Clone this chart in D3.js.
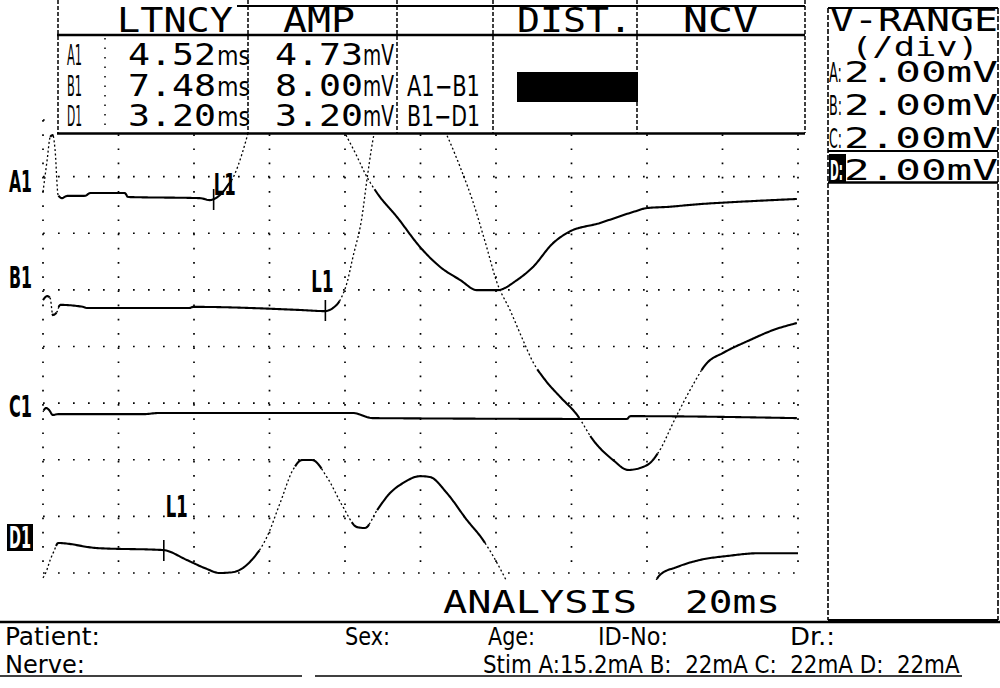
<!DOCTYPE html>
<html><head><meta charset="utf-8">
<script src="https://cdn.jsdelivr.net/npm/d3@7"></script>
<style>html,body{margin:0;padding:0;background:#fff;}svg{display:block;}text{white-space:pre;}</style>
</head><body><svg id="c" width="1000" height="688"></svg>
<script>
// ---------------- DATA ----------------
const headers = ["LTNCY", "AMP", "DIST.", "NCV"];
const rowLabels = ["A1", "B1", "D1"];
const latencies = [4.52, 7.48, 3.20];      // ms
const amplitudes = [4.73, 8.00, 3.20];     // mV
const segmentLabels = ["", "A1\u2212B1", "B1\u2212D1"];
const vRangeChannels = ["A", "B", "C", "D"];
const vRange = [2.00, 2.00, 2.00, 2.00];   // mV/div
const analysisMs = 20;
const stimChannels = ["A", "B", "C", "D"];
const stimCurrent = ["15.2", "22", "22", "22"];
const channelNames = ["A1", "B1", "C1", "D1"];
const infoRow1 = ["Patient:", "Sex:", "Age:", "ID-No:", "Dr.:"];
const infoRow2 = ["Nerve:"];

// traces: [time ms, deflection mV]
const traceA1 = [[0,0.18],[0.11,1.31],[0.19,2.12],[0.26,2.19],[0.32,1.66],[0.40,0.07],[0.50,-0.04],[0.64,0.04],[1.11,0.04],[1.25,0.14],[2.17,0.14],[2.25,0],[4.16,-0.04],[4.42,-0.11],[4.53,-0.07],[4.74,0.14],[4.90,0.42],[5.03,0.67],[5.22,1.31],[5.38,2.01],[5.54,2.79],[5.80,3.78],[6.15,4.49],[6.60,4.73],[7.07,4.56],[7.55,3.60],[8.00,2.26],[8.26,1.59],[8.58,0.71],[8.85,0.14],[9.38,-0.71],[9.99,-1.77],[10.52,-2.47],[11.05,-2.93],[11.50,-3.29],[12.03,-3.29],[12.56,-2.93],[12.98,-2.47],[13.51,-1.63],[13.88,-1.27],[14.75,-0.92],[15.63,-0.53],[16.00,-0.39],[16.53,-0.35],[17.40,-0.25],[18.28,-0.18],[19.97,-0.07]];
const traceB1 = [[0,0.28],[0.11,0.42],[0.19,0.35],[0.26,-0.25],[0.37,-0.14],[0.45,0.11],[1.06,0.04],[1.17,0],[3.89,0],[3.97,0.04],[6.81,-0.07],[7.47,-0.11],[7.68,0],[7.87,0.28],[8.05,0.88],[8.21,1.80],[8.45,3.22],[8.58,4.52],[8.74,5.94],[8.93,7.00],[9.19,7.70],[9.46,8.00],[9.77,7.88],[10.12,7.35],[10.44,6.82],[10.73,6.01],[11.05,4.98],[11.40,3.71],[11.72,2.30],[12.03,0.88],[12.37,-0.07],[12.69,-1.06],[12.98,-1.91],[13.30,-2.54],[13.70,-3.14],[14.15,-3.78],[14.57,-4.66],[15.10,-5.37],[15.50,-5.72],[16.00,-5.55],[16.34,-5.02],[16.69,-4.06],[17.14,-2.90],[17.59,-1.94],[18.01,-1.59],[18.73,-1.13],[19.34,-0.78],[19.97,-0.53]];
const traceC1 = [[0,0.04],[0.08,0.18],[0.16,0.11],[0.26,-0.07],[0.40,-0.04],[2.65,-0.04],[3.05,0],[8.21,0],[8.74,-0.18],[15.47,-0.21],[15.55,-0.11],[19.97,-0.18]];
const traceD1 = [[0,-1.05],[0.08,-0.85],[0.19,-0.42],[0.29,-0.11],[0.40,0.18],[1.43,0],[3.18,-0.07],[3.81,-0.42],[4.29,-0.71],[4.69,-0.88],[5.03,-0.85],[5.48,-0.49],[5.93,0.39],[6.28,1.59],[6.62,2.76],[6.86,3.11],[7.13,3.11],[7.52,2.51],[7.95,1.45],[8.32,0.74],[8.53,0.71],[8.85,1.34],[9.19,1.94],[9.54,2.30],[9.99,2.54],[10.25,2.51],[10.70,1.94],[11.23,0.99],[11.66,0.28],[12.03,-0.53],[12.24,-1.06],[12.50,-1.77],[13.03,-2.90],[13.70,-3.78],[14.49,-4.03],[15.28,-3.43],[15.95,-2.01],[16.21,-1.20],[16.34,-0.95],[16.79,-0.67],[17.40,-0.42],[18.12,-0.28],[18.99,-0.18],[20,-0.18]];
const traces = [traceA1, traceB1, traceC1, traceD1];

// ---------------- LAYOUT ----------------
const MONO = "'DejaVu Sans Mono', 'Liberation Mono', monospace";
const NARROW = "'DejaVu Sans Condensed', 'Liberation Sans Narrow', 'DejaVu Sans', sans-serif";
const channelOffsetMv = [13.28, 9.36, 5.65, 0.88];   // baseline position of each channel on screen (mV above bottom edge)
const nDivX = 10, nDivY = 8;

const svg = d3.select("#c");
svg.append("rect").attr("width", 1000).attr("height", 688).attr("fill", "#fff");

const x = d3.scaleLinear().domain([0, analysisMs]).range([43, 798]);
const y = d3.scaleLinear().domain([0, nDivY * vRange[0]]).range([573, 120]);

// text fitted horizontally to a width by scaling
function txt(s, tx, ty, w, fs, fam, fill, weight) {
  const t = svg.append("text").attr("x", 0).attr("y", 0)
    .attr("font-size", fs).attr("font-family", fam).attr("fill", fill || "#000")
    .attr("font-weight", weight || "normal").text(s);
  const nat = t.node().getComputedTextLength() || w;
  const sx = w ? w / nat : 1;
  t.attr("transform", `translate(${tx},${ty}) scale(${sx.toFixed(4)},1)`);
  return t;
}
function hline(x1, x2, yy, sw, dash) {
  const l = svg.append("line").attr("x1", x1).attr("x2", x2).attr("y1", yy).attr("y2", yy)
    .attr("stroke", "#000").attr("stroke-width", sw);
  if (dash) l.attr("stroke-dasharray", dash);
}
function vline(xx, y1, y2, sw, dash) {
  const l = svg.append("line").attr("x1", xx).attr("x2", xx).attr("y1", y1).attr("y2", y2)
    .attr("stroke", "#000").attr("stroke-width", sw);
  if (dash) l.attr("stroke-dasharray", dash);
}

// ---------------- GRID ----------------
const grid = svg.append("g");
const xTicks = d3.range(0, nDivX + 1).map(i => i * analysisMs / nDivX);
const yTicks = d3.range(0, nDivY + 1).map(i => i * vRange[0]);
grid.selectAll(".gx").data(xTicks).join("line")
  .attr("x1", d => x(d)).attr("x2", d => x(d)).attr("y1", y(yTicks[yTicks.length - 1])).attr("y2", y(0))
  .attr("stroke", "#000").attr("stroke-width", 1.7).attr("stroke-dasharray", "1.7,12.5");
grid.selectAll(".gy").data(yTicks).join("line")
  .attr("x1", x(0)).attr("x2", x(analysisMs)).attr("y1", d => y(d)).attr("y2", d => y(d))
  .attr("stroke", "#000").attr("stroke-width", 1.7).attr("stroke-dasharray", "1.7,13.3");

// ---------------- TRACES ----------------
svg.append("clipPath").attr("id", "plotclip").append("rect")
  .attr("x", 0).attr("y", 133).attr("width", 802).attr("height", 447);
const tg = svg.append("g").attr("clip-path", "url(#plotclip)");
const smooth = d3.line().curve(d3.curveMonotoneX);
const straight = d3.line();
function densify(pts) {
  const p = svg.append("path").attr("d", smooth(pts)).attr("fill", "none");
  const node = p.node(), L = node.getTotalLength();
  const out = [];
  for (let s = 0; s < L; s += 1.5) { const q = node.getPointAtLength(s); out.push([q.x, q.y]); }
  const q = node.getPointAtLength(L); out.push([q.x, q.y]);
  p.remove();
  return out;
}
traces.forEach((tr, ci) => {
  const off = channelOffsetMv[ci];
  const pts = densify(tr.map(d => [x(d[0]), y(off + d[1])]));
  const groups = [];
  for (let i = 0; i < pts.length - 1; i++) {
    const a = pts[Math.max(0, i - 2)], b = pts[Math.min(pts.length - 1, i + 3)];
    const dx = Math.abs(b[0] - a[0]) || 0.01;
    const steep = Math.abs(b[1] - a[1]) / dx > 1.5;
    const last = groups[groups.length - 1];
    if (last && last.steep === steep) last.pts.push(pts[i + 1]);
    else groups.push({ steep, pts: [pts[i], pts[i + 1]] });
  }
  groups.forEach(g => {
    tg.append("path").attr("d", straight(g.pts)).attr("fill", "none").attr("stroke", "#000")
      .attr("stroke-width", g.steep ? 1.3 : 2.1)
      .attr("stroke-linejoin", "round")
      .attr("stroke-dasharray", g.steep ? "2,2.4" : null);
  });
});

// L1 markers
const markerChannels = [0, 1, 3];
const l1Dx = [0, -14, 2], l1Dy = [-2, -16, -31];
markerChannels.forEach((ci, k) => {
  const lx = x(latencies[k]);
  const by = y(channelOffsetMv[ci]);
  vline(lx, by - 8, by + 13, 1.6);
  txt("L1", lx + l1Dx[k], by + l1Dy[k], 22, 30, NARROW, "#000", "bold");
});

// channel labels on left
const chLabelBase = [192, 288, 417, 549];
channelNames.forEach((n, i) => {
  if (n === "D1") {
    svg.append("rect").attr("x", 7).attr("y", 524).attr("width", 26).attr("height", 27).attr("fill", "#000");
    txt(n, 9, chLabelBase[i] - 1, 22, 30, NARROW, "#fff", "bold");
  } else {
    txt(n, 9, chLabelBase[i], 23, 31, NARROW, "#000", "bold");
  }
});

// ---------------- TOP TABLE ----------------
svg.append("rect").attr("x", 57).attr("y", 0).attr("width", 748).attr("height", 133).attr("fill", "#fff");
hline(237, 805, 6, 2);
hline(57, 805, 35, 2.5);
hline(57, 805, 133.5, 2.5);
[58, 248, 397, 493, 637, 805].forEach(xx => vline(xx, 0, 133, 1.5, "4,2"));
vline(105, 38, 130, 1.5, "1.5,8");

const headerX = [117, 283, 517, 683], headerW = [116, 72, 115, 75];
headers.forEach((h, i) => txt(h, headerX[i], 32, headerW[i], 33, MONO));

const rowBase = [65, 96, 126];
const fmt = d3.format(".2f");
rowLabels.forEach((r, i) => {
  txt(r, 67, rowBase[i], 15, 28, NARROW);
  txt(fmt(latencies[i]), 128, rowBase[i], 88, 31, MONO);
  txt("ms", 217, rowBase[i], 33, 26, NARROW);
  txt(fmt(amplitudes[i]), 275, rowBase[i], 88, 31, MONO);
  txt("mV", 363, rowBase[i], 31, 28, NARROW);
  if (segmentLabels[i]) txt(segmentLabels[i], 407, rowBase[i], 73, 28, NARROW);
});
svg.append("rect").attr("x", 517).attr("y", 72).attr("width", 121).attr("height", 30).attr("fill", "#000");

// ---------------- V-RANGE PANEL ----------------
vline(828, 8, 620, 1.6, "5,2");
vline(998, 8, 620, 1.6, "6,2");
hline(828, 998, 8, 2);
hline(828, 998, 620, 2);
hline(828, 998, 151, 2);
hline(828, 998, 182.5, 2.5);
txt("V-RANGE", 830, 31, 168, 32, MONO);
txt("(/div)", 851, 56, 128, 26, MONO);
const vrBase = [82, 115, 148, 180];
vRangeChannels.forEach((c, i) => {
  if (c === "D") {
    svg.append("rect").attr("x", 829).attr("y", 154).attr("width", 17).attr("height", 28).attr("fill", "#000");
    txt(c + ":", 830, vrBase[i], 13, 27, NARROW, "#fff", "bold");
  } else {
    txt(c + ":", 829, vrBase[i], 13, 27, NARROW);
  }
  txt(fmt(vRange[i]) + "mV", 844, vrBase[i], 154, 29, MONO);
});

// ---------------- BOTTOM ----------------
txt("ANALYSIS", 443, 613, 194, 32, MONO);
txt(analysisMs + "ms", 685, 613, 95, 32, MONO);
hline(0, 1000, 622, 2.5);
const row1X = [5, 345, 488, 598, 790], row1W = [95, 45, 47, 70, 45];
infoRow1.forEach((s, i) => txt(s, row1X[i], 645, row1W[i], 25, NARROW));
txt(infoRow2[0], 5, 673, 80, 25, NARROW);
const stimStr = "Stim " + stimChannels.map((c, i) => c + ":" + (stimCurrent[i].length < 3 ? "  " : "") + stimCurrent[i] + "mA").join(" ");
txt(stimStr, 483, 673, 477, 25, NARROW);
hline(0, 302, 676, 1.6);
hline(315, 962, 676, 1.6);
</script>
</body></html>
